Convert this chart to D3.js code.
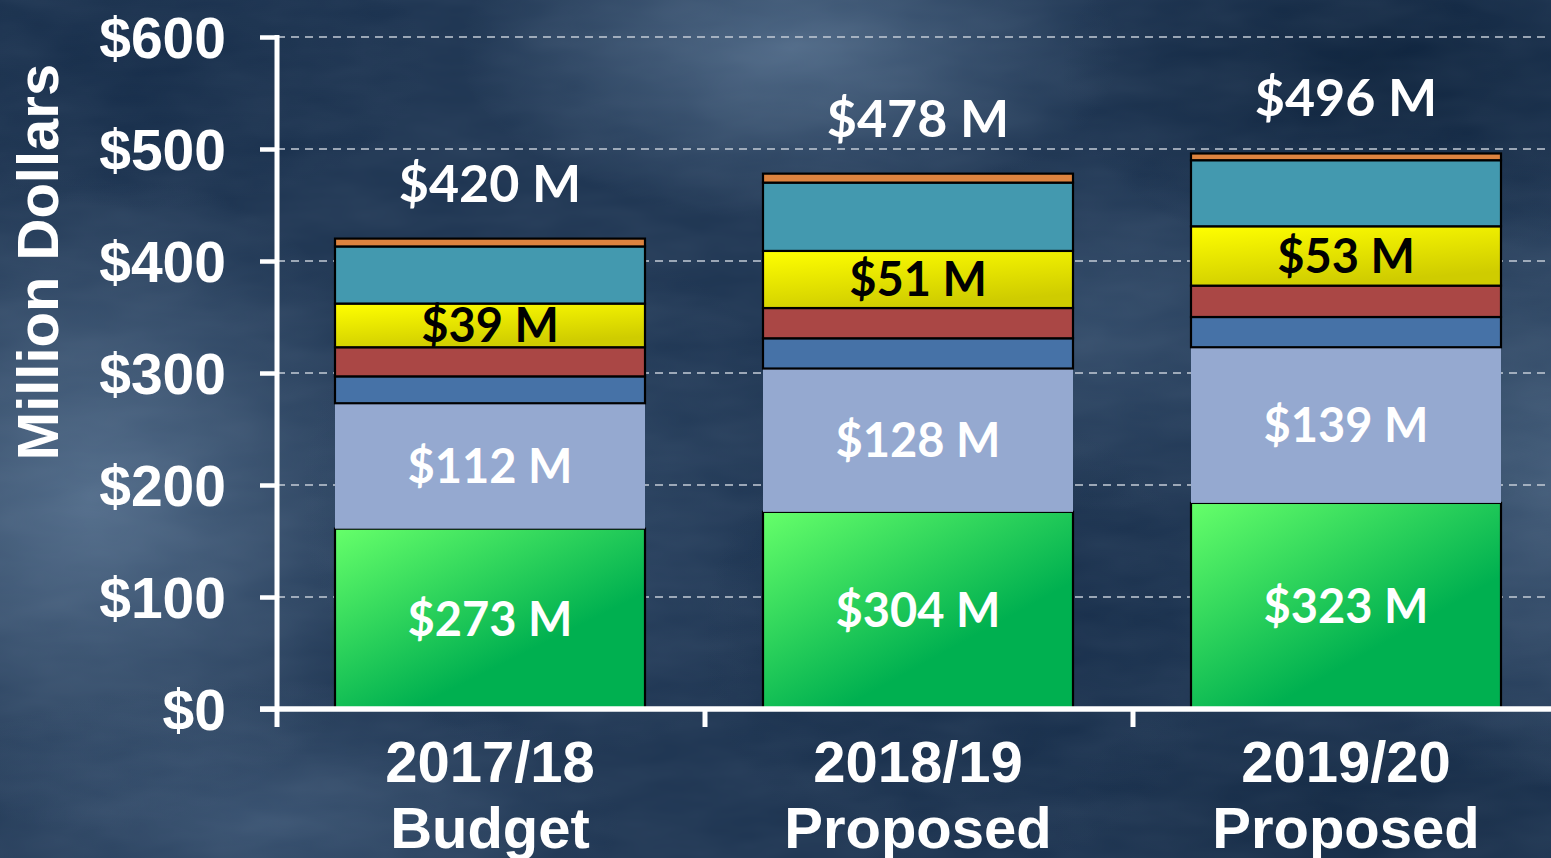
<!DOCTYPE html>
<html>
<head>
<meta charset="utf-8">
<script src="https://cdnjs.cloudflare.com/ajax/libs/d3/7.8.5/d3.min.js"></script>
<style>
  html, body { margin: 0; padding: 0; background: #1c3350; overflow: hidden; }
  svg { display: block; }
</style>
</head>
<body>
<div id="chart"></div>
<script>
// --- data (million dollars) ---
const years = ["2017/18", "2018/19", "2019/20"];
const stages = ["Budget", "Proposed", "Proposed"];
const green = [161, 176, 184];
const lightBlue = [112, 128, 139];
const blue = [24, 27, 27];
const red = [26, 27, 28];
const yellow = [39, 51, 53];
const teal = [51, 61, 59];
const orange = [7, 8, 6];
const totals = [420, 478, 496];
const greenLabels = [273, 304, 323];
const lightBlueLabels = [112, 128, 139];
const yellowLabels = [39, 51, 53];
const yTicks = [0, 100, 200, 300, 400, 500, 600];

const W = 1551, H = 858;
const margin = {top: 37, left: 277, bottom: 149};

const svg = d3.select("#chart").append("svg")
    .attr("width", W)
    .attr("height", H);

const defs = svg.append("defs");

// background: navy base with soft light / dark patches
const blobs = [
  {cx: 90, cy: 500, rx: 330, ry: 330, c: "#5f7a98", o: 0.8},
  {cx: 790, cy: 50, rx: 330, ry: 170, c: "#5d7896", o: 0.75},
  {cx: 1560, cy: 470, rx: 260, ry: 320, c: "#5a7592", o: 0.6},
  {cx: 260, cy: 820, rx: 360, ry: 140, c: "#4f6a8a", o: 0.55},
  {cx: 1100, cy: 330, rx: 260, ry: 180, c: "#4a6584", o: 0.45},
  {cx: 560, cy: 500, rx: 260, ry: 260, c: "#3f5a7a", o: 0.4},
  {cx: 150, cy: 60, rx: 280, ry: 150, c: "#0f2643", o: 0.7},
  {cx: 1380, cy: 70, rx: 320, ry: 200, c: "#081d36", o: 0.8},
  {cx: 960, cy: 640, rx: 260, ry: 240, c: "#0c233f", o: 0.6},
  {cx: 1350, cy: 820, rx: 300, ry: 140, c: "#0a1f38", o: 0.6}
];
blobs.forEach((b, i) => {
  const g = defs.append("radialGradient").attr("id", "blob" + i);
  g.append("stop").attr("offset", "0%").attr("stop-color", b.c).attr("stop-opacity", b.o);
  g.append("stop").attr("offset", "100%").attr("stop-color", b.c).attr("stop-opacity", 0);
});

const noise = defs.append("filter").attr("id", "noise");
noise.append("feTurbulence")
    .attr("type", "fractalNoise")
    .attr("baseFrequency", "0.01 0.03")
    .attr("numOctaves", 3)
    .attr("seed", 7);
noise.append("feColorMatrix")
    .attr("type", "matrix")
    .attr("values", "0 0 0 0 0.55  0 0 0 0 0.65  0 0 0 0 0.78  0 0 0 0.09 0");

const greenGrad = defs.append("linearGradient").attr("id", "greenGrad")
    .attr("x1", "0%").attr("y1", "0%").attr("x2", "60%").attr("y2", "70%");
greenGrad.append("stop").attr("offset", "0%").attr("stop-color", "#66ff6a");
greenGrad.append("stop").attr("offset", "100%").attr("stop-color", "#00b050");

const yellowGrad = defs.append("linearGradient").attr("id", "yellowGrad")
    .attr("x1", "0%").attr("y1", "0%").attr("x2", "40%").attr("y2", "100%");
yellowGrad.append("stop").attr("offset", "0%").attr("stop-color", "#ffff00");
yellowGrad.append("stop").attr("offset", "100%").attr("stop-color", "#cfcc00");

svg.append("rect").attr("width", W).attr("height", H).attr("fill", "#1c3350");
svg.selectAll("ellipse.blob")
  .data(blobs)
  .enter()
  .append("ellipse")
    .attr("class", "blob")
    .attr("cx", d => d.cx).attr("cy", d => d.cy)
    .attr("rx", d => d.rx).attr("ry", d => d.ry)
    .attr("fill", (d, i) => "url(#blob" + i + ")");
svg.append("rect").attr("width", W).attr("height", H).attr("filter", "url(#noise)");

// scales
const x = d3.scaleBand()
    .domain(years)
    .range([margin.left - 1, margin.left - 1 + 3 * 428]);

const y = d3.scaleLinear()
    .domain([0, 600])
    .range([H - margin.bottom, margin.top]);

const barW = 310;

// gridlines
svg.append("g")
  .selectAll("line")
  .data(yTicks.filter(d => d > 0))
  .enter()
  .append("line")
    .attr("x1", margin.left).attr("x2", W)
    .attr("y1", d => y(d)).attr("y2", d => y(d))
    .attr("stroke", "#c3ccd6")
    .attr("stroke-width", 1.6)
    .attr("stroke-dasharray", "8,6");

// stacked bars
const keys = ["green", "lightBlue", "blue", "red", "yellow", "teal", "orange"];
const fills = {
  green: "url(#greenGrad)", lightBlue: "#95a9d0", blue: "#4672a7",
  red: "#aa4745", yellow: "url(#yellowGrad)", teal: "#4399af", orange: "#dd833f"
};
const series = {green, lightBlue, blue, red, yellow, teal, orange};
const rows = years.map((yr, i) => {
  const r = {year: yr};
  keys.forEach(k => r[k] = series[k][i]);
  return r;
});
const stacked = d3.stack().keys(keys)(rows);

const layers = svg.append("g")
  .selectAll("g")
  .data(stacked)
  .enter()
  .append("g")
    .attr("fill", d => fills[d.key]);

layers.selectAll("rect")
  .data(d => d.map(v => Object.assign(v, {key: d.key})))
  .enter()
  .append("rect")
    .attr("x", d => x(d.data.year) + x.bandwidth() / 2 - barW / 2)
    .attr("width", barW)
    .attr("y", d => y(d[1]))
    .attr("height", d => y(d[0]) - y(d[1]))
    .attr("stroke", d => d.key === "lightBlue" ? "none" : "#000")
    .attr("stroke-width", 2.2);

// segment labels
const segLabel = (layerKey, labels, color) => {
  const layer = stacked.find(s => s.key === layerKey);
  svg.append("g")
    .selectAll("text")
    .data(layer)
    .enter()
    .append("text")
      .attr("x", d => x(d.data.year) + x.bandwidth() / 2)
      .attr("y", d => (y(d[0]) + y(d[1])) / 2)
      .attr("dy", "0.36em")
      .attr("text-anchor", "middle")
      .attr("fill", color)
      .style("font", "bold 47px Lato, 'Open Sans', sans-serif")
      .text((d, i) => "$" + labels[i] + " M");
};
segLabel("green", greenLabels, "#fff");
segLabel("lightBlue", lightBlueLabels, "#fff");
segLabel("yellow", yellowLabels, "#000");

// total labels
svg.append("g")
  .selectAll("text")
  .data(totals)
  .enter()
  .append("text")
    .attr("x", (d, i) => x(years[i]) + x.bandwidth() / 2)
    .attr("y", d => y(d) - 37)
    .attr("text-anchor", "middle")
    .attr("fill", "#fff")
    .style("font", "bold 52px Lato, 'Open Sans', sans-serif")
    .text(d => "$" + d + " M");

// y axis
const yAxis = svg.append("g")
    .attr("transform", "translate(" + margin.left + ",0)")
    .call(d3.axisLeft(y).tickValues(yTicks).tickFormat(d => "$" + d).tickSize(17).tickPadding(34));
yAxis.select(".domain").remove();
yAxis.selectAll(".tick line").attr("stroke", "#fff").attr("stroke-width", 4.5);
yAxis.selectAll(".tick text")
    .attr("fill", "#fff")
    .attr("dy", "0.36em")
    .style("font", "bold 57px 'Liberation Sans', Arial, sans-serif");
svg.append("line")
    .attr("x1", margin.left).attr("x2", margin.left)
    .attr("y1", y(600) - 2).attr("y2", y(0))
    .attr("stroke", "#fff").attr("stroke-width", 5);

// x axis
svg.append("line")
    .attr("x1", margin.left - 17).attr("x2", W)
    .attr("y1", y(0)).attr("y2", y(0))
    .attr("stroke", "#fff").attr("stroke-width", 5.5);
const bounds = years.map(d => x(d) + 1);
svg.append("g")
  .selectAll("line")
  .data(bounds)
  .enter()
  .append("line")
    .attr("x1", d => d).attr("x2", d => d)
    .attr("y1", y(0)).attr("y2", y(0) + 18)
    .attr("stroke", "#fff").attr("stroke-width", 5);

const catLabels = svg.append("g")
  .selectAll("text")
  .data(years)
  .enter()
  .append("text")
    .attr("x", d => x(d) + x.bandwidth() / 2)
    .attr("text-anchor", "middle")
    .attr("fill", "#fff")
    .style("font", "bold 58px 'Liberation Sans', Arial, sans-serif");
catLabels.append("tspan")
    .attr("x", d => x(d) + x.bandwidth() / 2)
    .attr("y", 782)
    .text(d => d);
catLabels.append("tspan")
    .attr("x", d => x(d) + x.bandwidth() / 2)
    .attr("y", 848)
    .text((d, i) => stages[i]);

// y title
svg.append("text")
    .attr("transform", "translate(58,262) rotate(-90)")
    .attr("text-anchor", "middle")
    .attr("fill", "#fff")
    .style("font", "bold 58px 'Liberation Sans', Arial, sans-serif")
    .text("Million Dollars");
</script>
</body>
</html>
